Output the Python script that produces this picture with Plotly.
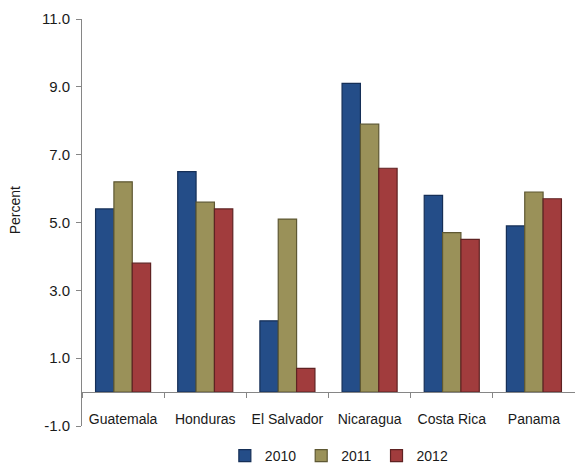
import plotly.graph_objects as go

countries = ["Guatemala", "Honduras", "El Salvador", "Nicaragua", "Costa Rica", "Panama"]
years = ["2010", "2011", "2012"]
growth_2010 = [5.4, 6.5, 2.1, 9.1, 5.8, 4.9]
growth_2011 = [6.2, 5.6, 5.1, 7.9, 4.7, 5.9]
growth_2012 = [3.8, 5.4, 0.7, 6.6, 4.5, 5.7]
y_ticks = [-1, 1, 3, 5, 7, 9, 11]

series = [growth_2010, growth_2011, growth_2012]
fills = ["#244d88", "#9a9159", "#a13c3d"]
edges = ["#152f57", "#5e5833", "#5f2222"]

FONT = "Liberation Sans, Arial, sans-serif"

fig = go.Figure()
for name, vals, fill, edge in zip(years, series, fills, edges):
    fig.add_trace(go.Bar(
        x=countries, y=vals, name=name,
        marker=dict(color=fill, line=dict(color=edge, width=1.2)),
    ))

ymin, ymax = y_ticks[0], y_ticks[-1]
fig.update_layout(
    width=575, height=472,
    margin=dict(l=82, r=0, t=19, b=41),
    paper_bgcolor="white", plot_bgcolor="white",
    barmode="group", bargap=0.33, bargroupgap=0,
    font=dict(family=FONT, size=14, color="#1a1a1a"),
    showlegend=True,
    legend=dict(orientation="h", x=0.522, xanchor="center", y=-0.075, yanchor="middle",
                font=dict(size=14), itemwidth=30, traceorder="normal",
                bgcolor="rgba(0,0,0,0)"),
    xaxis=dict(
        type="category", tickson="boundaries", ticks="outside", ticklen=5,
        tickcolor="#868686", showline=True, linecolor="#868686", linewidth=1,
        showgrid=False, anchor="free", position=(0 - ymin) / (ymax - ymin),
        tickangle=0, tickfont=dict(size=14), ticklabelstandoff=14,
    ),
    yaxis=dict(
        range=[ymin, ymax], tickvals=y_ticks,
        ticktext=[f"{v:.1f}" for v in y_ticks],
        ticks="outside", ticklen=5, tickcolor="#868686",
        showline=True, linecolor="#868686", linewidth=1,
        showgrid=False, zeroline=False, tickfont=dict(size=15),
        ticklabelstandoff=3,
    ),
    annotations=[dict(
        text="Percent", textangle=-90, xref="paper", yref="paper",
        x=(15 - 82) / 493, xanchor="center", y=0.53, showarrow=False,
        font=dict(size=14),
    )],
)

fig.write_html("out.html")
